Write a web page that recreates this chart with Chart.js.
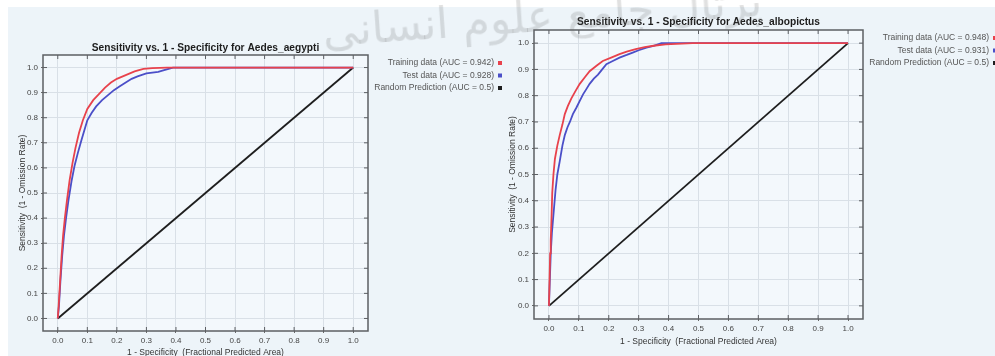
<!DOCTYPE html>
<html>
<head>
<meta charset="utf-8">
<script src="https://cdn.jsdelivr.net/npm/chart.js@4.4.0/dist/chart.umd.min.js"></script>
<style>
  html, body { margin: 0; padding: 0; width: 995px; height: 356px; overflow: hidden; background: #fff; }
  #panel { position: absolute; left: 8px; top: 7px; width: 987px; height: 349px; background: #edf4f9; }
  canvas { position: absolute; top: 0; }
  #chartA { left: 0; }
  #chartB { left: 500px; }
  #mark { position: absolute; left: 322px; top: -10px; font-family: "DejaVu Sans"; font-size: 44px;
          color: rgba(105,105,105,0.2); white-space: nowrap; transform: rotate(-4deg); pointer-events: none; }
</style>
</head>
<body>
<div id="panel"></div>
<canvas id="chartA" width="505" height="362"></canvas>
<canvas id="chartB" width="495" height="362"></canvas>
<div id="mark" dir="rtl">پرتال جامع علوم انسانی</div>
<script>
// axis ticks (both axes)
const tickValues = [0.0, 0.1, 0.2, 0.3, 0.4, 0.5, 0.6, 0.7, 0.8, 0.9, 1.0];

// Aedes aegypti
const aegyptiTrainFpr = [0, 0.003, 0.008, 0.013, 0.018, 0.024, 0.031, 0.040, 0.050, 0.060, 0.072, 0.085, 0.100, 0.120, 0.140, 0.160, 0.180, 0.200, 0.230, 0.260, 0.290, 0.320, 0.370, 1.0];
const aegyptiTrainTpr = [0, 0.05, 0.15, 0.25, 0.33, 0.40, 0.47, 0.55, 0.62, 0.68, 0.74, 0.79, 0.835, 0.87, 0.895, 0.92, 0.94, 0.955, 0.97, 0.985, 0.995, 0.998, 1.0, 1.0];
const aegyptiTestFpr = [0, 0.004, 0.009, 0.015, 0.021, 0.028, 0.036, 0.047, 0.057, 0.068, 0.080, 0.090, 0.100, 0.115, 0.130, 0.150, 0.170, 0.190, 0.210, 0.230, 0.250, 0.270, 0.300, 0.340, 0.360, 0.390, 1.0];
const aegyptiTestTpr = [0, 0.05, 0.15, 0.25, 0.33, 0.40, 0.47, 0.55, 0.61, 0.66, 0.71, 0.75, 0.79, 0.82, 0.845, 0.87, 0.89, 0.91, 0.925, 0.94, 0.955, 0.965, 0.977, 0.983, 0.99, 1.0, 1.0];
const aegyptiLabels = ['Training data (AUC = 0.942)', 'Test data (AUC = 0.928)', 'Random Prediction (AUC = 0.5)'];

// Aedes albopictus
const albopictusTrainFpr = [0, 0.002, 0.004, 0.006, 0.009, 0.011, 0.015, 0.020, 0.028, 0.036, 0.045, 0.053, 0.063, 0.075, 0.090, 0.103, 0.120, 0.136, 0.160, 0.180, 0.210, 0.236, 0.260, 0.290, 0.320, 0.350, 0.390, 0.480, 1.0];
const albopictusTrainTpr = [0, 0.10, 0.20, 0.25, 0.35, 0.43, 0.50, 0.56, 0.61, 0.65, 0.69, 0.73, 0.76, 0.79, 0.82, 0.845, 0.87, 0.893, 0.915, 0.932, 0.946, 0.958, 0.968, 0.977, 0.985, 0.99, 0.995, 1.0, 1.0];
const albopictusTestFpr = [0, 0.003, 0.006, 0.010, 0.016, 0.022, 0.028, 0.036, 0.045, 0.053, 0.062, 0.070, 0.080, 0.092, 0.103, 0.114, 0.125, 0.136, 0.150, 0.164, 0.178, 0.192, 0.210, 0.236, 0.260, 0.280, 0.300, 0.326, 0.350, 0.376, 1.0];
const albopictusTestTpr = [0, 0.10, 0.20, 0.28, 0.36, 0.44, 0.50, 0.55, 0.61, 0.65, 0.68, 0.70, 0.73, 0.755, 0.78, 0.805, 0.825, 0.845, 0.865, 0.88, 0.90, 0.92, 0.93, 0.945, 0.955, 0.964, 0.973, 0.983, 0.99, 1.0, 1.0];
const albopictusLabels = ['Training data (AUC = 0.948)', 'Test data (AUC = 0.931)', 'Random Prediction (AUC = 0.5)'];

// random prediction line
const randomFpr = [0, 1];
const randomTpr = [0, 1];

const colors = ['#e8424c', '#4b4fc8', '#1e1e1e'];
const fontName = '"Liberation Sans", Arial, sans-serif';

function toPoints(xs, ys) {
  return xs.map((x, i) => ({ x: x, y: ys[i] }));
}

// plot background, frame and the little inner tick marks
const framePlugin = {
  id: 'frame',
  beforeDraw(chart) {
    const a = chart.chartArea, ctx = chart.ctx;
    ctx.save();
    ctx.fillStyle = '#f3f8fc';
    ctx.fillRect(a.left, a.top, a.right - a.left, a.bottom - a.top);
    ctx.restore();
  },
  afterDraw(chart) {
    const a = chart.chartArea, ctx = chart.ctx;
    const xs = chart.scales.x, ys = chart.scales.y;
    ctx.save();
    ctx.strokeStyle = '#5c5f63';
    ctx.lineWidth = 1.5;
    ctx.strokeRect(a.left, a.top, a.right - a.left, a.bottom - a.top);
    ctx.lineWidth = 1;
    ctx.beginPath();
    tickValues.forEach(v => {
      const px = xs.getPixelForValue(v);
      ctx.moveTo(px, a.bottom); ctx.lineTo(px, a.bottom - 4);
      ctx.moveTo(px, a.top); ctx.lineTo(px, a.top + 4);
      const py = ys.getPixelForValue(v);
      ctx.moveTo(a.left, py); ctx.lineTo(a.left + 4, py);
      ctx.moveTo(a.right, py); ctx.lineTo(a.right - 4, py);
    });
    ctx.stroke();
    ctx.restore();
  }
};

// legend: right aligned text with a small square after it
const rocLegend = {
  id: 'rocLegend',
  afterDraw(chart) {
    const a = chart.chartArea, ctx = chart.ctx;
    ctx.save();
    ctx.font = '8.5px ' + fontName;
    ctx.textAlign = 'right';
    ctx.textBaseline = 'middle';
    chart.data.datasets.forEach((ds, i) => {
      const y = a.top + 8 + i * 12.5;
      ctx.fillStyle = '#555';
      ctx.fillText(ds.label, a.right + 126, y);
      ctx.fillStyle = ds.borderColor;
      ctx.fillRect(a.right + 130, y - 2, 4, 4);
    });
    ctx.restore();
  }
};

function makeChart(id, title, labels, trainX, trainY, testX, testY, lay) {
  const series = [toPoints(trainX, trainY), toPoints(testX, testY), toPoints(randomFpr, randomTpr)];
  const ctx = document.getElementById(id).getContext('2d');
  return new Chart(ctx, {
    type: 'scatter',
    data: {
      datasets: series.map((pts, i) => ({
        label: labels[i],
        data: pts,
        showLine: true,
        borderColor: colors[i],
        backgroundColor: colors[i],
        borderWidth: 1.8,
        pointRadius: 0,
        tension: 0
      }))
    },
    options: {
      responsive: false,
      animation: false,
      layout: { padding: { left: 0, right: lay.right, top: lay.top, bottom: 0 } },
      plugins: {
        legend: { display: false },
        tooltip: { enabled: false },
        title: {
          display: true,
          text: title,
          fullSize: false,
          color: '#1d1d1d',
          font: { family: fontName, size: 10.2, weight: 'bold' },
          padding: { top: 0, bottom: lay.titleGap }
        }
      },
      scales: {
        x: {
          type: 'linear',
          min: -0.05,
          max: 1.05,
          afterBuildTicks: s => { s.ticks = tickValues.map(v => ({ value: v })); },
          afterFit: s => { s.height = lay.xHeight; },
          grid: { color: '#d9e0e7', tickColor: '#6a6a6a', tickLength: 2 },
          border: { display: false },
          ticks: { padding: 3, color: '#444', autoSkip: false, maxRotation: 0,
                   font: { family: fontName, size: 8 }, callback: v => v.toFixed(1) },
          title: { display: true, text: '1 - Specificity  (Fractional Predicted Area)', color: '#333',
                   font: { family: fontName, size: 8.5 }, padding: { top: 0, bottom: lay.xTitlePad } }
        },
        y: {
          type: 'linear',
          min: -0.05,
          max: 1.05,
          afterBuildTicks: s => { s.ticks = tickValues.map(v => ({ value: v })); },
          afterFit: s => { s.width = lay.yWidth; },
          grid: { color: '#d9e0e7', tickColor: '#6a6a6a', tickLength: 2 },
          border: { display: false },
          ticks: { padding: 3, color: '#444', autoSkip: false,
                   font: { family: fontName, size: 8 }, callback: v => v.toFixed(1) },
          title: { display: true, text: 'Sensitivity  (1 - Omission Rate)', color: '#333',
                   font: { family: fontName, size: 8.5 }, padding: { top: lay.yTitlePad, bottom: 0 } }
        }
      }
    },
    plugins: [framePlugin, rocLegend]
  });
}

makeChart('chartA', 'Sensitivity vs. 1 - Specificity for Aedes_aegypti', aegyptiLabels,
  aegyptiTrainFpr, aegyptiTrainTpr, aegyptiTestFpr, aegyptiTestTpr,
  { right: 137, top: 41.88, titleGap: 0.88, xHeight: 31, xTitlePad: 3.9, yWidth: 43, yTitlePad: 17.9 });

makeChart('chartB', 'Sensitivity vs. 1 - Specificity for Aedes_albopictus', albopictusLabels,
  albopictusTrainFpr, albopictusTrainTpr, albopictusTestFpr, albopictusTestTpr,
  { right: 132, top: 15.88, titleGap: 1.88, xHeight: 43, xTitlePad: 14.9, yWidth: 34, yTitlePad: 7.9 });
</script>
</body>
</html>
